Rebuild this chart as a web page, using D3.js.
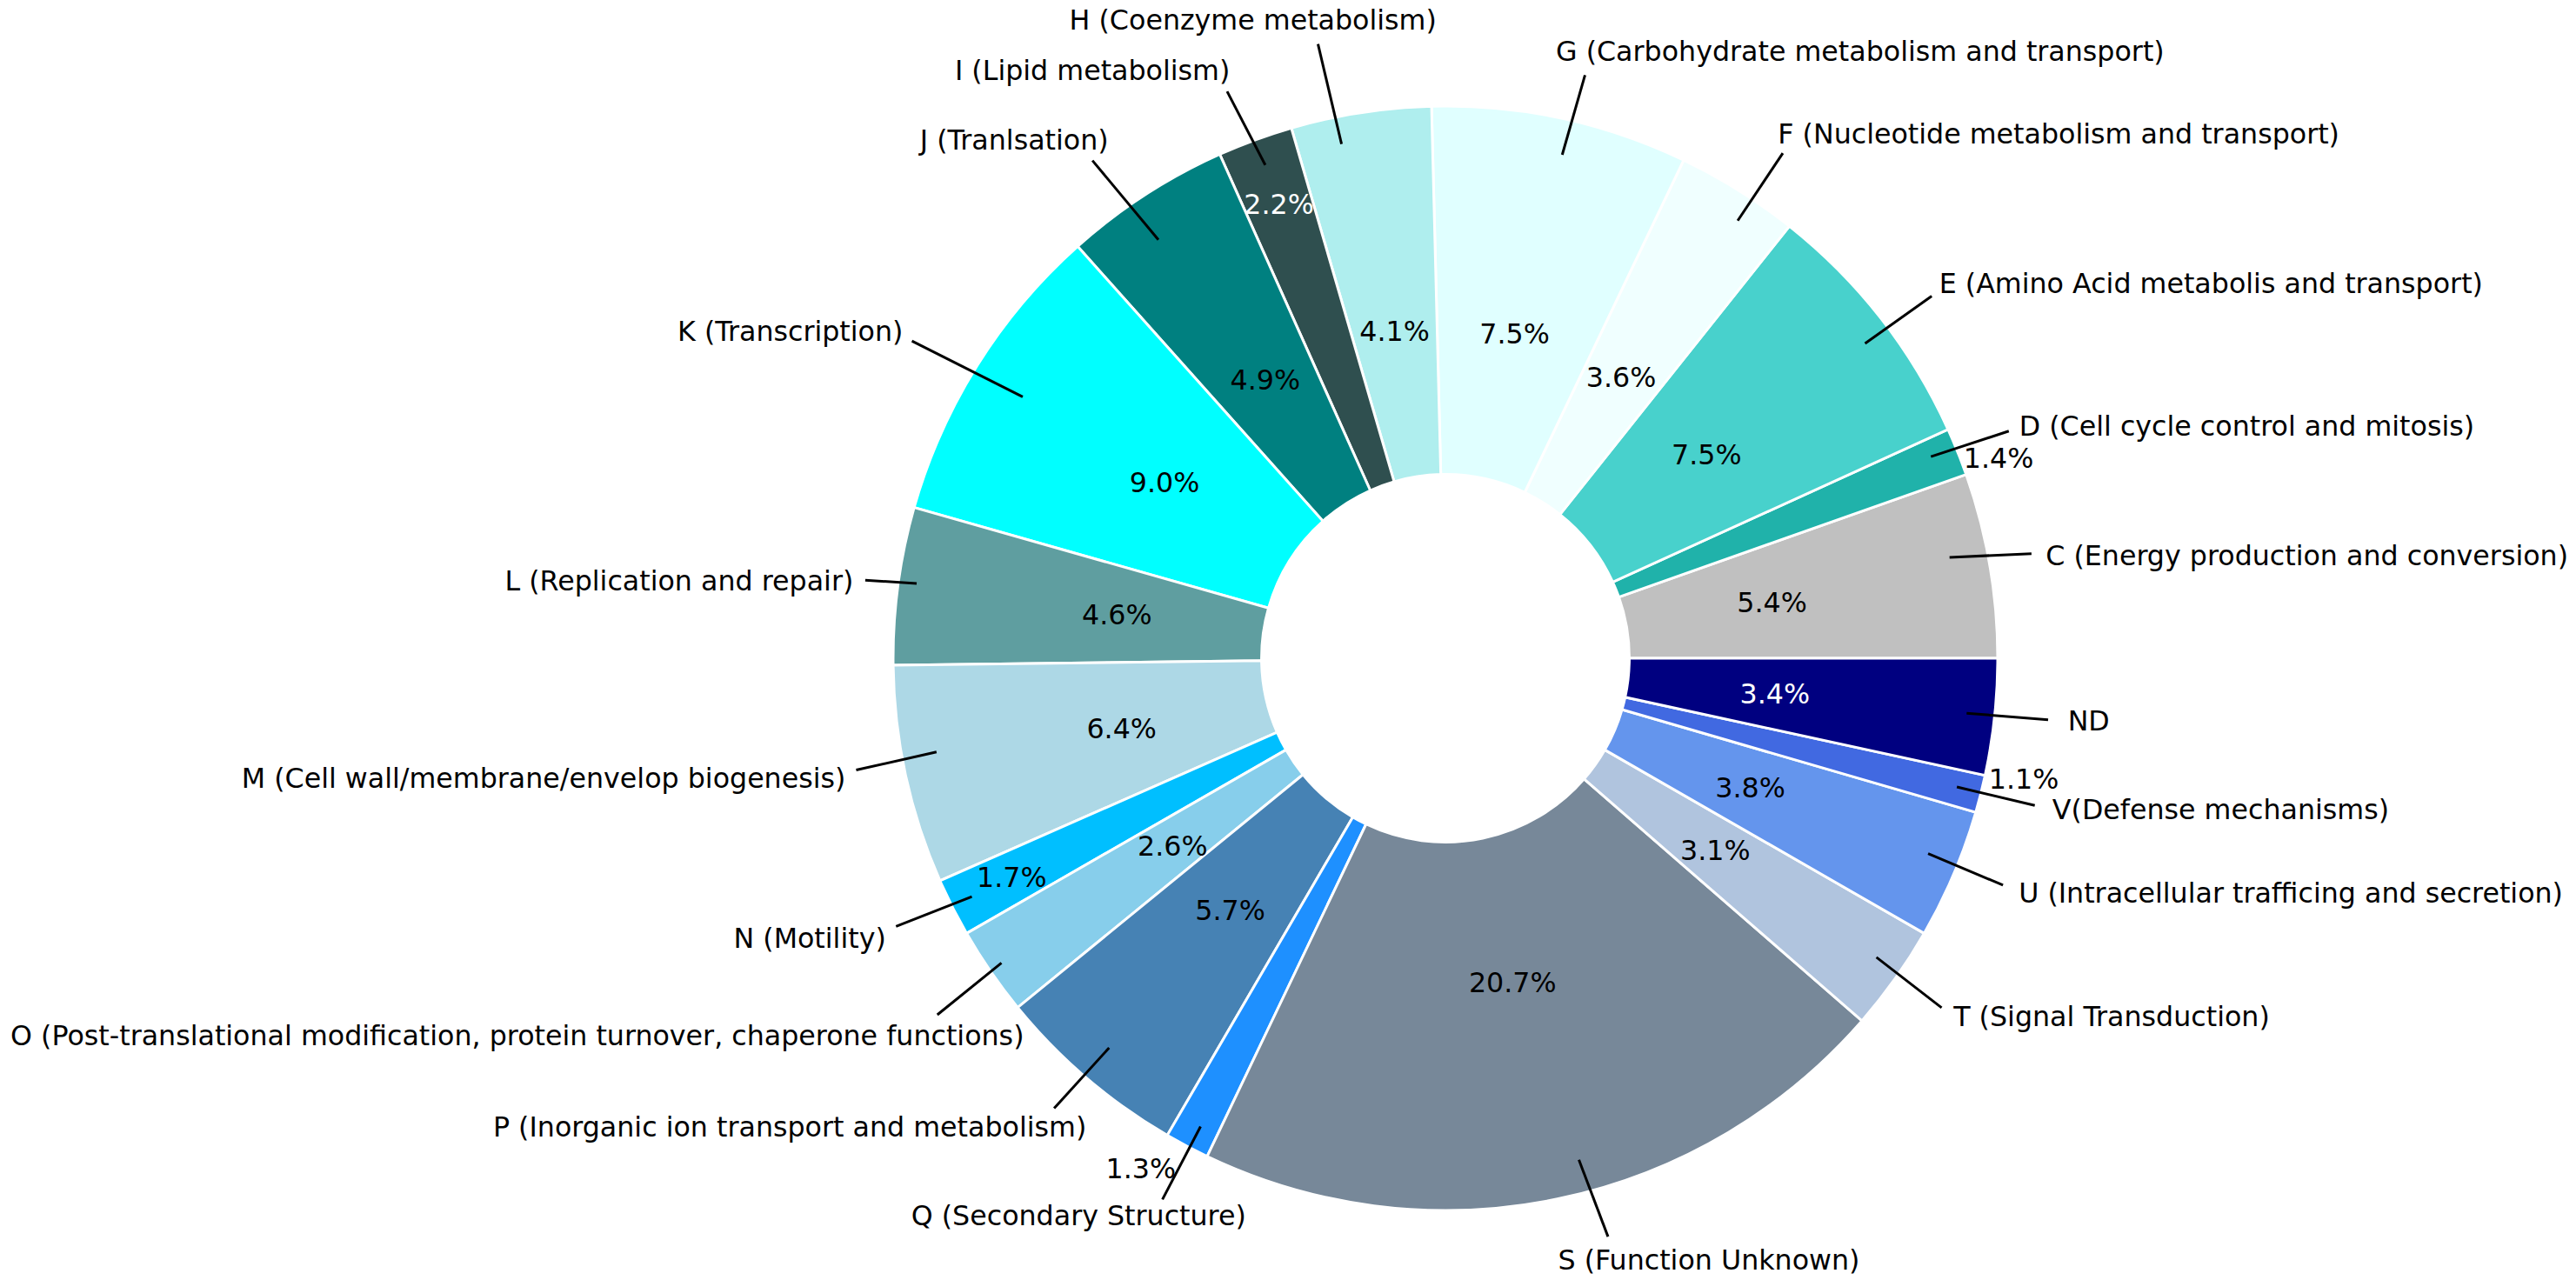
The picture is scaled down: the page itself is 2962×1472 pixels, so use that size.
<!DOCTYPE html>
<html>
<head>
<meta charset="utf-8">
<script src="https://cdn.jsdelivr.net/npm/d3@7"></script>
<style>
    body { margin: 0; background: #ffffff; }
    svg text { font-family: 'DejaVu Sans', sans-serif; font-size: 31.7px; }
</style>
</head>
<body>
<svg id="chart" width="2962" height="1472"></svg>
<script>
// COG categories, counter-clockwise from 3 o'clock
var labels = [
    'C (Energy production and conversion)',
    'D (Cell cycle control and mitosis)',
    'E (Amino Acid metabolis and transport)',
    'F (Nucleotide metabolism and transport)',
    'G (Carbohydrate metabolism and transport)',
    'H (Coenzyme metabolism)',
    'I (Lipid metabolism)',
    'J (Tranlsation)',
    'K (Transcription)',
    'L (Replication and repair)',
    'M (Cell wall/membrane/envelop biogenesis)',
    'N (Motility)',
    'O (Post-translational modification, protein turnover, chaperone functions)',
    'P (Inorganic ion transport and metabolism)',
    'Q (Secondary Structure)',
    'S (Function Unknown)',
    'T (Signal Transduction)',
    'U (Intracellular trafficing and secretion)',
    'V(Defense mechanisms)',
    'ND'
];

var shares = [ 5.4, 1.4, 7.5, 3.6, 7.5, 4.1, 2.2, 4.9, 9.0, 4.6,
               6.4, 1.7, 2.6, 5.7, 1.3, 20.7, 3.1, 3.8, 1.1, 3.4 ];

var sliceColors = [
    'silver', 'lightseagreen', 'mediumturquoise', 'azure', 'lightcyan',
    'paleturquoise', 'darkslategray', 'teal', 'cyan', 'cadetblue',
    'lightblue', 'deepskyblue', 'skyblue', 'steelblue', 'dodgerblue',
    'lightslategray', 'lightsteelblue', 'cornflowerblue', 'royalblue', 'navy'
];

// percentage text drawn in white on these
var whiteText = [ 'I (Lipid metabolism)', 'ND' ];

// ---- layout (in pie radii, x to the right, y upwards) ----
var labelSpots = [
    [  1.087,   0.186 ],
    [  1.039,   0.421 ],
    [  0.894,   0.679 ],
    [  0.602,   0.950 ],
    [  0.200,   1.099 ],
    [ -0.016,   1.156 ],
    [ -0.390,   1.065 ],
    [ -0.610,   0.939 ],
    [ -0.982,   0.592 ],
    [ -1.072,   0.140 ],
    [ -1.086,  -0.218 ],
    [ -1.013,  -0.507 ],
    [ -0.763,  -0.683 ],
    [ -0.650,  -0.849 ],
    [ -0.361,  -1.009 ],
    [  0.204,  -1.090 ],
    [  0.920,  -0.649 ],
    [  1.038,  -0.425 ],
    [  1.099,  -0.274 ],
    [  1.127,  -0.113 ]
];

// leader line: [deg off slice middle, radius] for the inner end, then the outer end
var leaderEnds = [
    [  1.6, 0.931,  0.4, 1.078 ],
    [  0.6, 0.952,  0.0, 1.100 ],
    [ -1.1, 0.950, -1.3, 1.098 ],
    [ -1.7, 0.953, -1.7, 1.100 ],
    [ -1.0, 0.936, -1.4, 1.086 ],
    [  2.6, 0.950,  2.9, 1.136 ],
    [ -0.1, 0.951,  0.9, 1.100 ],
    [  1.5, 0.919,  2.4, 1.105 ],
    [  0.3, 0.900,  1.3, 1.124 ],
    [ -0.5, 0.967, -0.1, 1.060 ],
    [ -1.8, 0.937, -1.5, 1.086 ],
    [ -0.1, 0.960, -0.8, 1.107 ],
    [ -0.1, 0.975,  0.5, 1.124 ],
    [ -0.3, 0.932, -0.5, 1.080 ],
    [  0.3, 0.957,  0.3, 1.106 ],
    [  3.2, 0.940,  4.0, 1.088 ],
    [  0.7, 0.950,  0.3, 1.099 ],
    [  1.0, 0.943,  0.9, 1.090 ],
    [  0.1, 0.955,  0.2, 1.100 ],
    [  0.1, 0.949,  0.3, 1.097 ]
];

// percentage text: [deg off slice middle, radius]
var pctSpots = [
    [ 0, 0.6 ], [ -2.1, 1.065 ], [ 0, 0.6 ], [ 0, 0.6 ], [ 0, 0.6 ],
    [ 0, 0.6 ], [ 0, 0.875 ], [ 0, 0.6 ], [ 0, 0.6 ], [ 0, 0.6 ],
    [ 0, 0.6 ], [ 0, 0.88 ], [ 0, 0.6 ], [ 0, 0.6 ], [ -2.9, 1.077 ],
    [ 0, 0.6 ], [ 0, 0.6 ], [ 0, 0.6 ], [ 2.4, 1.07 ], [ 0, 0.6 ]
];

var svg    = d3.select( '#chart' ),
    cx     = 1662,
    cy     = 757,
    radius = 635,
    hole   = 0.333,
    r      = d3.scaleLinear().domain( [ 0, 1 ] ).range( [ 0, radius ] ),
    g      = svg.append( 'g' ).attr( 'transform', 'translate(' + cx + ',' + cy + ')' ),

    // matplotlib order: start at 3 o'clock and run counter-clockwise
    pie = d3.pie()
        .sort( null )
        .value( function( d ) { return d; } )
        .startAngle( Math.PI / 2 )
        .endAngle( Math.PI / 2 - 2 * Math.PI ),

    arc = d3.arc()
        .innerRadius( r( hole ) )
        .outerRadius( r( 1 ) ),

    slices = pie( shares );

// degrees counter-clockwise from 3 o'clock
function midDeg( s ) {
    return 90 - ( ( s.startAngle + s.endAngle ) / 2 ) * 180 / Math.PI;
}

function polar( deg, rr ) {
    var a = deg * Math.PI / 180;
    return [ r( rr ) * Math.cos( a ), -r( rr ) * Math.sin( a ) ];
}

g.selectAll( 'path.slice' )
    .data( slices )
    .enter().append( 'path' )
    .attr( 'class', 'slice' )
    .attr( 'd', arc )
    .attr( 'fill', function( d, i ) { return sliceColors[ i ]; } )
    .attr( 'stroke', '#ffffff' )
    .attr( 'stroke-width', 3 );

g.selectAll( 'text.pct' )
    .data( slices )
    .enter().append( 'text' )
    .attr( 'class', 'pct' )
    .attr( 'x', function( d, i ) { return polar( midDeg( d ) + pctSpots[ i ][ 0 ], pctSpots[ i ][ 1 ] )[ 0 ]; } )
    .attr( 'y', function( d, i ) { return polar( midDeg( d ) + pctSpots[ i ][ 0 ], pctSpots[ i ][ 1 ] )[ 1 ]; } )
    .attr( 'text-anchor', 'middle' )
    .attr( 'dominant-baseline', 'central' )
    .attr( 'fill', function( d, i ) { return whiteText.indexOf( labels[ i ] ) >= 0 ? '#ffffff' : '#000000'; } )
    .text( function( d ) { return d3.format( '.1f' )( d.value ) + '%'; } );

g.selectAll( 'line.leader' )
    .data( slices )
    .enter().append( 'line' )
    .attr( 'class', 'leader' )
    .each( function( d, i ) {
        var e   = leaderEnds[ i ],
            p0  = polar( midDeg( d ) + e[ 0 ], e[ 1 ] ),
            p1  = polar( midDeg( d ) + e[ 2 ], e[ 3 ] );
        d3.select( this )
            .attr( 'x1', p0[ 0 ] ).attr( 'y1', p0[ 1 ] )
            .attr( 'x2', p1[ 0 ] ).attr( 'y2', p1[ 1 ] );
    } )
    .attr( 'stroke', '#000000' )
    .attr( 'stroke-width', 3 );

g.selectAll( 'text.label' )
    .data( slices )
    .enter().append( 'text' )
    .attr( 'class', 'label' )
    .attr( 'x', function( d, i ) { return r( labelSpots[ i ][ 0 ] ); } )
    .attr( 'y', function( d, i ) { return -r( labelSpots[ i ][ 1 ] ); } )
    .attr( 'text-anchor', function( d ) {
        return Math.cos( midDeg( d ) * Math.PI / 180 ) < 0 ? 'end' : 'start';
    } )
    .attr( 'dominant-baseline', 'central' )
    .attr( 'fill', '#000000' )
    .text( function( d, i ) { return labels[ i ]; } );
</script>
</body>
</html>
